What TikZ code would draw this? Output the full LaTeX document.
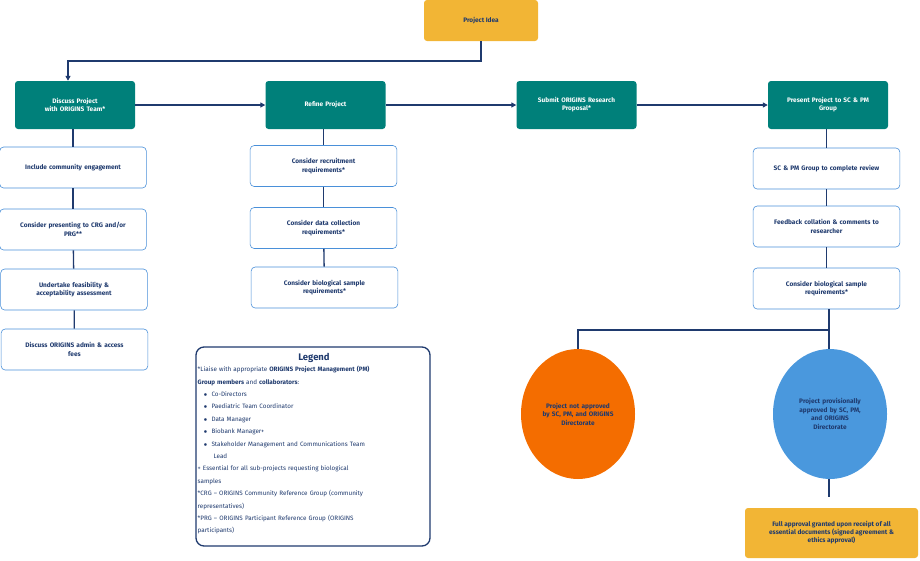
\documentclass[tikz,border=0pt]{standalone}
\usepackage{fontspec}
\setmainfont{Fira Sans}
\usetikzlibrary{positioning,shapes.geometric,arrows.meta}
\definecolor{navy}{HTML}{1F3A6E}
\definecolor{tealbox}{HTML}{00807A}
\definecolor{gold}{HTML}{F2B535}
\definecolor{edge}{HTML}{4A90D9}
\definecolor{orng}{HTML}{F46D00}
\definecolor{sky}{HTML}{4A98DD}
\tikzset{
  stage/.style={rectangle, rounded corners=3pt, fill=tealbox, text=white, font=\fontsize{6.5}{8}\selectfont\bfseries,
    minimum width=120pt, minimum height=48pt, align=center, text width=110pt},
  task/.style={rectangle, rounded corners=4pt, draw=edge, fill=white, text=navy, font=\fontsize{6.5}{8.5}\selectfont\bfseries,
    minimum width=145pt, minimum height=41pt, align=center, text width=140pt, line width=0.6pt},
  idea/.style={rectangle, rounded corners=3pt, fill=gold, text=navy, font=\fontsize{6.5}{8}\selectfont\bfseries,
    minimum width=114pt, minimum height=41pt, align=center},
  result/.style={ellipse, minimum width=114pt, minimum height=130pt, text=navy, font=\fontsize{6.5}{8.5}\selectfont\bfseries,
    align=center, text width=75pt, inner sep=0pt},
  link/.style={draw=navy, line width=1.3pt},
  flow/.style={link, -{Triangle[length=5pt,width=5pt]}}
}
\begin{document}
\begin{tikzpicture}[x=1pt, y=-1pt]
  \useasboundingbox (0,0) rectangle (920,560);
  % main row
  \node[idea] (idea) at (481,20.5) {Project Idea};
  \node[stage] (discuss) at (75,105) {Discuss Project\\with ORIGINS Team*};
  \node[stage] (refine) at (325.5,105) {Refine Project};
  \node[stage] (submit) at (576.5,105) {Submit ORIGINS Research\\Proposal*};
  \node[stage] (present) at (828,105) {Present Project to SC \& PM\\Group};
  % left column
  \node[task] (commun) at (73,167.5) {Include community engagement};
  \node[task] (crg) at (73,229.5) {Consider presenting to CRG and/or\\PRG**};
  \node[task] (feas) at (74,289.5) {Undertake feasibility \&\\acceptability assessment};
  \node[task] (admin) at (74.5,349.5) {Discuss ORIGINS admin \& access\\fees};
  % middle column
  \node[task] (recruit) at (323.5,166) {Consider recruitment\\requirements*};
  \node[task] (data) at (323.5,228) {Consider data collection\\requirements*};
  \node[task] (sample) at (324.5,287.5) {Consider biological sample\\requirements*};
  % right column
  \node[task] (review) at (826.5,168.5) {SC \& PM Group to complete review};
  \node[task] (feedback) at (826.5,226.5) {Feedback collation \& comments to\\researcher};
  \node[task] (biosample) at (826.5,288.5) {Consider biological sample\\requirements*};
  % outcomes
  \node[result, fill=orng] (reject) at (578,414) {Project not approved\\by SC, PM, and ORIGINS\\Directorate};
  \node[result, fill=sky] (approve) at (830,414) {Project provisionally\\approved by SC, PM,\\and ORIGINS\\Directorate};
  \node[idea, minimum width=173pt, minimum height=50pt] (full) at (831.5,533)
    {Full approval granted upon receipt of all\\essential documents (signed agreement \&\\ethics approval)};
  \coordinate (split) at (829,330);
  \coordinate (approvetail) at (829,497);
  % connectors
  \draw[flow] (idea.south) |- (68,61) -- (discuss.north -| 68,0);
  \draw[flow] (discuss.east) -- (refine.west);
  \draw[flow] (refine.east) -- (submit.west);
  \draw[flow] (submit.east) -- (present.west);
  \draw[link] (discuss.south -| commun) -- (commun);
  \draw[link] (commun) -- (crg);
  \draw[link] (crg) -- (feas);
  \draw[link] (feas) -- (admin);
  \draw[link] (refine.south -| recruit) -- (recruit);
  \draw[link] (recruit) -- (data);
  \draw[link] (data) -- (sample);
  \draw[link] (present.south -| review) -- (review);
  \draw[link] (review) -- (feedback);
  \draw[link] (feedback) -- (biosample);
  \draw[link] (biosample.south -| split) -- (split) -| (reject.north);
  \draw[link] (split) -- (approve.north -| split);
  \draw[link] (approve.south -| approvetail) -- (approvetail);
  % legend
  \node[draw=navy, line width=1.3pt, rounded corners=8pt, fill=white, text=navy, minimum width=234pt, minimum height=199pt,
    inner sep=0pt] (legend) at (313,446.5) {};
  \node[text=navy, font=\fontsize{9.5}{11}\selectfont\bfseries] (legendtitle) at (314,357.5) {Legend};
  \node[text=navy, font=\fontsize{6.3}{12.4}\selectfont, text width=232pt, align=left, anchor=north west, inner sep=0pt]
    (legendtext) at (197.5,366) {%
    *Liaise with appropriate \textbf{ORIGINS Project Management (PM)}\\
    \textbf{Group members} and \textbf{collaborators}:\\
    \hspace*{6pt}$\bullet$\hspace{4pt}Co-Directors\\
    \hspace*{6pt}$\bullet$\hspace{4pt}Paediatric Team Coordinator\\
    \hspace*{6pt}$\bullet$\hspace{4pt}Data Manager\\
    \hspace*{6pt}$\bullet$\hspace{4pt}Biobank Manager+\\
    \hspace*{6pt}$\bullet$\hspace{4pt}Stakeholder Management and Communications Team\\
    \hspace*{16pt}Lead\\
    + Essential for all sub-projects requesting biological\\
    samples\\
    **CRG -- ORIGINS Community Reference Group (community\\
    representatives)\\
    **PRG -- ORIGINS Participant Reference Group (ORIGINS\\
    participants)};
\end{tikzpicture}
\end{document}
